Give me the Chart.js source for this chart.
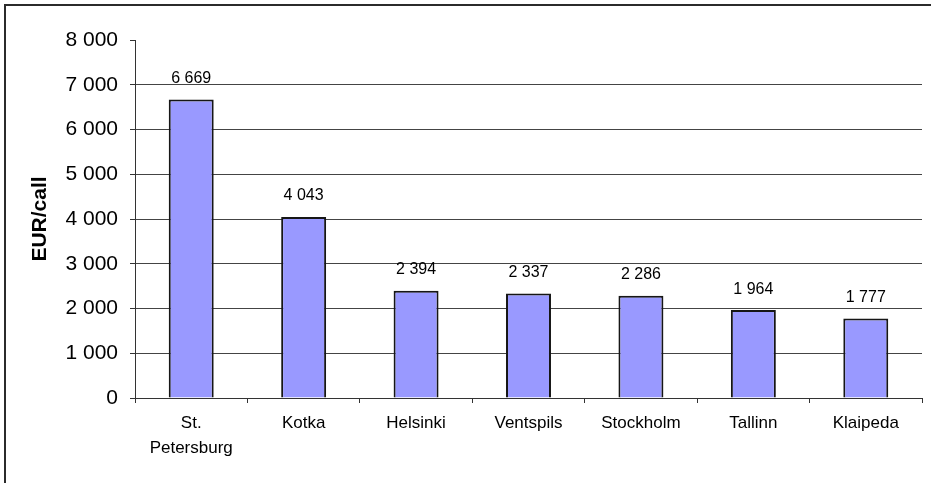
<!DOCTYPE html>
<html>
<head>
<meta charset="utf-8">
<script src="https://cdn.jsdelivr.net/npm/chart.js@4.4.1/dist/chart.umd.min.js"></script>
<style>
    body { margin: 0; background: #fff; }
    .wrap { position: relative; width: 931px; height: 483px; overflow: hidden; }
    .frame {
        position: absolute; left: 4px; top: 4px; width: 1200px; height: 800px;
        border-left: 2px solid #2b2b2b; border-top: 2px solid #2b2b2b;
    }
    #chart { position: absolute; left: 0; top: 0; }
</style>
</head>
<body>
<div class="wrap">
    <div class="frame"></div>
    <canvas id="chart" width="931" height="483"></canvas>
</div>
<script>
// ports and average cost per call
let ports = [['St.', 'Petersburg'], 'Kotka', 'Helsinki', 'Ventspils', 'Stockholm', 'Tallinn', 'Klaipeda'];
let costs = [6669, 4043, 2394, 2337, 2286, 1964, 1777];
let yTicks = [0, 1000, 2000, 3000, 4000, 5000, 6000, 7000, 8000];

const fontName = '"Liberation Sans", Arial, sans-serif';

// 6669 -> "6 669"
function spaced(n) {
    return String(n).replace(/\B(?=(\d{3})+(?!\d))/g, ' ');
}

// numbers above each bar
const valueLabels = {
    id: 'valueLabels',
    afterDatasetsDraw(chart) {
        let ctx = chart.ctx;
        let meta = chart.getDatasetMeta(0);
        ctx.save();
        ctx.font = '16px ' + fontName;
        ctx.fillStyle = '#000';
        ctx.textAlign = 'center';
        ctx.textBaseline = 'middle';
        meta.data.forEach((bar, i) => {
            ctx.fillText(spaced(costs[i]), bar.x, bar.y - 21);
        });
        ctx.restore();
    }
};

let ctx = document.getElementById('chart').getContext('2d');

new Chart(ctx, {
    type: 'bar',
    data: {
        labels: ports,
        datasets: [{
            data: costs,
            backgroundColor: '#9999ff',
            borderColor: '#161616',
            borderWidth: 2,
            barPercentage: 0.4,
            categoryPercentage: 1.0
        }]
    },
    options: {
        responsive: false,
        animation: false,
        devicePixelRatio: 1,
        layout: { padding: { left: 0, top: 40, right: 9, bottom: 0 } },
        plugins: {
            legend: { display: false },
            tooltip: { enabled: false }
        },
        scales: {
            x: {
                afterFit: (scale) => { scale.height = 85; },
                grid: {
                    drawOnChartArea: false,
                    tickLength: 5,
                    tickColor: '#333'
                },
                border: { display: true, color: '#333', width: 1 },
                ticks: {
                    padding: 8,
                    color: '#000',
                    maxRotation: 0,
                    font: { family: fontName, size: 17, lineHeight: 1.45 }
                }
            },
            y: {
                min: 0,
                max: 8000,
                afterFit: (scale) => { scale.width = 135; },
                afterBuildTicks: (scale) => {
                    scale.ticks = yTicks.map(v => ({ value: v }));
                },
                grid: {
                    color: (c) => (c.tick && c.tick.value === 8000) ? 'rgba(0,0,0,0)' : '#444',
                    tickColor: '#333',
                    tickLength: 5
                },
                border: { display: true, color: '#333', width: 1 },
                ticks: {
                    padding: 12,
                    color: '#000',
                    font: { family: fontName, size: 21 },
                    callback: (v) => spaced(v)
                },
                title: {
                    display: true,
                    text: 'EUR/call',
                    color: '#000',
                    padding: { top: 28, bottom: 0 },
                    font: { family: fontName, size: 21, weight: 'bold' }
                }
            }
        }
    },
    plugins: [valueLabels]
});
</script>
</body>
</html>
